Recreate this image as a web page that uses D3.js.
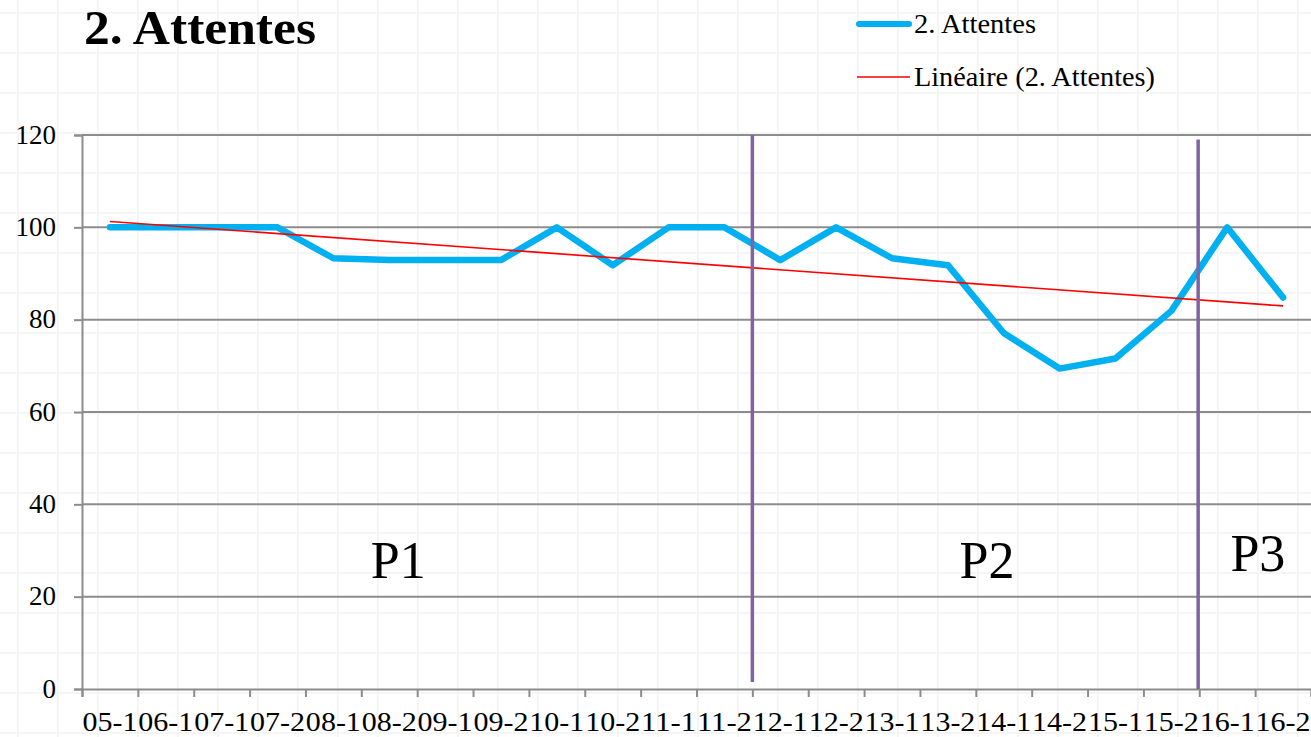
<!DOCTYPE html>
<html><head><meta charset="utf-8">
<script src="https://cdn.jsdelivr.net/npm/d3@7"></script>
<style>html,body{margin:0;padding:0;background:#fff;}svg{display:block;}</style>
</head><body>
<svg id="c" width="1311" height="737"></svg>
<script>
const categories = ["05-1","06-1","07-1","07-2","08-1","08-2","09-1","09-2","10-1","10-2","11-1","11-2","12-1","12-2","13-1","13-2","14-1","14-2","15-1","15-2","16-1","16-2"];
const attentes = [100,100,100,100,93.3,92.9,92.9,92.9,100,91.8,100,100,92.9,100,93.3,91.8,77.1,69.4,71.6,81.9,100,84.8];
const yTicks = [0,20,40,60,80,100,120];
const dividers = [12.0, 19.98];           // in category units
const periods = [{label:"P1", pos:5.66, v:24},{label:"P2", pos:16.2, v:24},{label:"P3", pos:21.05, v:25.5}];
const seriesName = "2. Attentes";
const trendName = "Linéaire (2. Attentes)";

const W = 1311, H = 737;
const m = {left:82, right:0, top:135, bottom:48};
const svg = d3.select("#c");
const font = "'Liberation Serif', 'DejaVu Serif', serif";

// faint background grid
const bg = svg.append("g");
d3.range(18, W, 40).forEach(x => bg.append("line").attr("x1",x).attr("x2",x).attr("y1",0).attr("y2",H).attr("stroke","#f5f5f5").attr("stroke-width",2));
d3.range(13, H, 40).forEach(y => bg.append("line").attr("y1",y).attr("y2",y).attr("x1",0).attr("x2",W).attr("stroke","#f5f5f5").attr("stroke-width",2));

const x = d3.scaleLinear().domain([0, categories.length]).range([m.left, W - m.right]);
const y = d3.scaleLinear().domain([0,120]).range([H - m.bottom, m.top]);
const xc = i => x(i + 0.5);

// gridlines
svg.append("g").selectAll("line").data(yTicks.filter(d=>d>0)).join("line")
  .attr("x1", m.left).attr("x2", W - m.right)
  .attr("y1", d=>y(d)).attr("y2", d=>y(d))
  .attr("stroke","#8c8c8c").attr("stroke-width",2);

// y axis
const ya = svg.append("g").attr("transform",`translate(${m.left},0)`)
  .call(d3.axisLeft(y).tickValues(yTicks).tickSize(8).tickPadding(18));
ya.select(".domain").attr("stroke","#8c8c8c").attr("stroke-width",2);
ya.selectAll(".tick line").attr("stroke","#8c8c8c").attr("stroke-width",2);
ya.selectAll("text").attr("font-family",font).attr("font-size",27).attr("fill","#000").attr("dy","0.3em");

// x axis
const xa = svg.append("g").attr("transform",`translate(0,${y(0)})`)
  .call(d3.axisBottom(x).tickValues(d3.range(0, categories.length+1)).tickSize(8).tickFormat(""));
xa.select(".domain").attr("stroke","#8c8c8c").attr("stroke-width",2);
xa.selectAll(".tick line").attr("stroke","#8c8c8c").attr("stroke-width",2);
svg.append("g").selectAll("text").data(categories).join("text")
  .attr("x",(d,i)=>xc(i)).attr("y", y(0)+42)
  .attr("text-anchor","middle").attr("font-family",font).attr("font-size",28)
  .attr("textLength",55).attr("lengthAdjust","spacingAndGlyphs")
  .text(d=>d);

// trend line (linear regression)
const n = attentes.length;
const mx = d3.mean(attentes,(d,i)=>i), my = d3.mean(attentes);
const slope = d3.sum(attentes,(d,i)=>(i-mx)*(d-my)) / d3.sum(attentes,(d,i)=>(i-mx)*(i-mx));
const icpt = my - slope*mx;

// series line
svg.append("path").datum(attentes)
  .attr("d", d3.line().x((d,i)=>xc(i)).y(d=>y(d)))
  .attr("fill","none").attr("stroke","#00B0F0").attr("stroke-width",6.5)
  .attr("stroke-linejoin","round").attr("stroke-linecap","round");

svg.append("line")
  .attr("x1", xc(0)).attr("y1", y(icpt))
  .attr("x2", xc(n-1)).attr("y2", y(icpt + slope*(n-1)))
  .attr("stroke","#FF0000").attr("stroke-width",1.6);

// period dividers
svg.append("g").selectAll("line").data(dividers).join("line")
  .attr("x1", d=>x(d)).attr("x2", d=>x(d))
  .attr("y1", (d,i)=> i===0 ? y(120) : y(119)).attr("y2", (d,i)=> i===0 ? y(1.5) : y(0))
  .attr("stroke","#8064A2").attr("stroke-width",3.5);

// period labels
svg.append("g").selectAll("text").data(periods).join("text")
  .attr("x", d=>x(d.pos)).attr("y", d=>y(d.v))
  .attr("text-anchor","middle").attr("font-family",font).attr("font-size",52)
  .text(d=>d.label);

// title
svg.append("text").attr("x",84).attr("y",44)
  .attr("font-family",font).attr("font-weight","bold").attr("font-size",48)
  .attr("textLength",232).attr("lengthAdjust","spacingAndGlyphs")
  .text(seriesName);

// legend
const lg = svg.append("g");
lg.append("line").attr("x1",859).attr("x2",909).attr("y1",24).attr("y2",24)
  .attr("stroke","#00B0F0").attr("stroke-width",6).attr("stroke-linecap","round");
lg.append("text").attr("x",914).attr("y",33).attr("font-family",font).attr("font-size",27)
  .attr("textLength",122).attr("lengthAdjust","spacingAndGlyphs").text(seriesName);
lg.append("line").attr("x1",857).attr("x2",910).attr("y1",77).attr("y2",77)
  .attr("stroke","#FF0000").attr("stroke-width",1.6);
lg.append("text").attr("x",914).attr("y",86).attr("font-family",font).attr("font-size",27)
  .attr("textLength",241).attr("lengthAdjust","spacingAndGlyphs").text(trendName);
</script>
</body></html>
